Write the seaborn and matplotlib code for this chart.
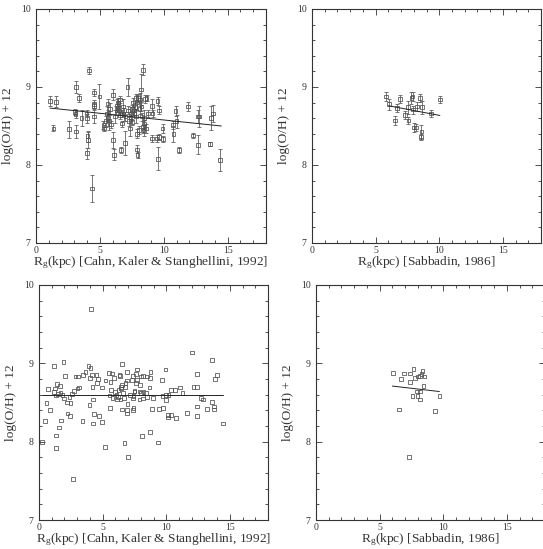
import numpy as np
import pandas as pd
import matplotlib
matplotlib.use("Agg")
import matplotlib.pyplot as plt
from matplotlib.ticker import MultipleLocator
import seaborn as sns

# ---------------- data ----------------
# Top-left: Cahn, Kaler & Stanghellini 1992 (with error bars)
tl_x = [1.10, 1.59, 1.36, 2.56, 3.13, 3.05, 3.10, 3.13, 3.39, 3.57, 3.96, 3.98, 3.97, 4.04, 4.06,
        4.17, 4.36, 4.56, 4.52, 4.55, 4.55, 4.96, 5.27, 5.30, 5.45, 5.53, 5.60, 5.65, 5.72, 5.80,
        5.85, 6.00, 6.05, 6.08, 6.20, 6.30, 6.35, 6.40, 6.42, 6.45, 6.50, 6.55, 6.60, 6.65, 6.70,
        6.75, 6.80, 6.85, 6.96, 7.00, 7.17, 7.20, 7.30, 7.35, 7.40, 7.45, 7.50, 7.55, 7.60, 7.65,
        7.70, 7.75, 7.80, 7.85, 7.88, 7.90, 7.92, 7.95, 8.00, 8.05, 8.10, 8.15, 8.22, 8.25, 8.30,
        8.35, 8.40, 8.42, 8.45, 8.48, 8.53, 8.60, 8.65, 8.79, 9.10, 9.12, 9.10, 9.44, 9.52, 9.60,
        9.65, 9.57, 9.91, 9.96, 10.70, 10.76, 10.93, 11.00, 11.20, 11.92, 12.28, 12.67, 12.75, 12.70,
        13.64, 13.71, 13.84, 14.42]
tl_y = [8.82, 8.81, 8.47, 8.46, 9.00, 8.68, 8.65, 8.43, 8.86, 8.60, 8.66, 8.60, 8.15, 8.37, 8.32,
        9.21, 7.70, 8.93, 8.78, 8.76, 8.62, 8.88, 8.51, 8.47, 8.56, 8.66, 8.79, 8.60, 8.57, 8.72,
        8.52, 8.90, 8.32, 8.13, 8.62, 8.70, 8.76, 8.80, 8.73, 8.78, 8.70, 8.84, 8.64, 8.19, 8.66,
        8.53, 8.75, 8.65, 8.28, 8.62, 9.00, 8.70, 8.56, 8.47, 8.61, 8.66, 8.72, 8.55, 8.80, 8.70,
        8.66, 8.74, 8.62, 8.86, 8.20, 8.40, 8.80, 8.13, 8.86, 8.45, 8.72, 8.84, 8.97, 8.75, 8.62,
        8.49, 9.22, 8.45, 8.53, 8.60, 8.85, 8.47, 8.86, 8.66, 8.76, 8.66, 8.34, 8.34, 8.82, 8.70,
        8.36, 8.08, 8.47, 8.33, 8.51, 8.40, 8.69, 8.56, 8.19, 8.75, 8.38, 8.62, 8.62, 8.26,
        8.27, 8.60, 8.66, 8.06]
tl_err = [0.07, 0.07, 0.04, 0.11, 0.08, 0.04, 0.05, 0.08, 0.05, 0.10, 0.04, 0.06, 0.07, 0.07, 0.10,
          0.04, 0.17, 0.05, 0.05, 0.04, 0.08, 0.16, 0.05, 0.04, 0.07, 0.10, 0.05, 0.10, 0.12, 0.08,
          0.05, 0.07, 0.10, 0.07, 0.08, 0.06, 0.08, 0.06, 0.05, 0.04, 0.06, 0.05, 0.05, 0.04, 0.05,
          0.04, 0.10, 0.08, 0.15, 0.06, 0.12, 0.05, 0.06, 0.10, 0.04, 0.08, 0.05, 0.04, 0.06, 0.06,
          0.04, 0.05, 0.08, 0.05, 0.05, 0.06, 0.10, 0.04, 0.05, 0.05, 0.07, 0.08, 0.20, 0.06, 0.05,
          0.08, 0.07, 0.08, 0.05, 0.10, 0.05, 0.06, 0.04, 0.04, 0.08, 0.05, 0.04, 0.04, 0.05, 0.05,
          0.04, 0.15, 0.06, 0.04, 0.05, 0.10, 0.06, 0.08, 0.04, 0.06, 0.03, 0.08, 0.13, 0.12,
          0.03, 0.15, 0.11, 0.14]
tl_fit_x = [1.1, 14.5]
tl_fit_y = [8.73, 8.50]

# Top-right: Sabbadin 1986 (with error bars)
tr_x = [5.80, 6.03, 6.50, 6.69, 6.90, 7.32, 7.56, 7.58, 7.82, 7.90, 7.92, 7.98, 8.20, 8.24,
        8.48, 8.60, 8.58, 8.66, 9.34, 10.08]
tr_y = [8.88, 8.78, 8.57, 8.73, 8.85, 8.64, 8.74, 8.57, 8.86, 8.88, 8.71, 8.48, 8.48, 8.75,
        8.86, 8.43, 8.36, 8.74, 8.66, 8.84]
tr_err = [0.06, 0.07, 0.06, 0.05, 0.05, 0.05, 0.08, 0.05, 0.08, 0.06, 0.05, 0.06, 0.05, 0.06,
          0.05, 0.08, 0.04, 0.08, 0.04, 0.04]
tr_fit_x = [6.0, 10.05]
tr_fit_y = [8.76, 8.635]

# Bottom-left: Cahn, Kaler & Stanghellini 1992 (no error bars)
bl_x = [0.24, 0.47, 0.58, 0.71, 0.86, 1.16, 1.16, 1.26, 1.31, 1.31, 1.31, 1.42, 1.50, 1.57, 1.63,
        1.68, 1.75, 1.84, 1.92, 1.97, 2.05, 2.20, 2.23, 2.39, 2.42, 2.47, 2.60, 2.67, 2.76, 2.86,
        3.02, 3.07, 3.12, 3.43, 3.46, 3.65, 3.88, 3.98, 3.99, 4.06, 4.11, 4.16, 4.20, 4.27, 4.25,
        4.33, 4.51, 4.58, 4.64, 4.69, 4.96, 4.96, 5.19, 5.22, 5.50, 5.55, 5.58, 5.63, 5.68, 5.76,
        5.79, 5.92, 5.99, 6.10, 6.13, 6.20, 6.25, 6.34, 6.38, 6.40, 6.42, 6.45, 6.50, 6.53, 6.55,
        6.60, 6.66, 6.71, 6.75, 6.80, 6.92, 6.92, 6.92, 6.92, 6.95, 7.00, 7.13, 7.29, 7.37, 7.39,
        7.39, 7.44, 7.44, 7.50, 7.50, 7.65, 7.65, 7.70, 7.70, 7.91, 7.91, 7.96, 8.00, 8.00, 8.07,
        8.17, 8.17, 8.22, 8.43, 8.48, 8.51, 8.69, 8.74, 8.75, 8.77, 8.88, 8.95, 9.33, 9.41, 9.68,
        9.70, 9.75, 9.94, 9.96, 9.99, 10.12, 10.12, 10.17, 10.35, 10.38, 10.69, 10.77, 11.08, 11.27,
        11.61, 12.03, 12.14, 12.40, 12.40, 12.40, 12.43, 12.71, 12.87, 13.19, 13.58, 13.58, 13.76,
        13.76, 13.84, 13.97, 14.47]
bl_y = [8.00, 8.26, 8.49, 8.67, 8.40, 8.97, 8.63, 8.68, 8.59, 8.08, 7.92, 8.74, 8.61, 8.18, 8.71,
        8.62, 8.27, 8.60, 9.02, 8.55, 8.84, 8.50, 8.36, 8.57, 8.33, 8.49, 8.61, 7.52, 8.65, 8.83,
        8.68, 8.83, 8.69, 8.26, 8.85, 8.89, 8.97, 8.47, 8.81, 8.94, 9.69, 8.85, 8.70, 8.54, 8.23,
        8.35, 8.85, 8.75, 8.80, 8.33, 8.69, 8.25, 7.93, 8.78, 8.88, 8.59, 8.43, 8.76, 8.66, 8.87,
        8.56, 8.81, 8.63, 8.60, 8.54, 8.57, 8.66, 8.85, 8.84, 8.54, 8.70, 8.68, 8.99, 8.41, 8.72,
        8.62, 8.56, 7.98, 8.70, 8.75, 8.89, 8.78, 8.40, 8.36, 8.48, 7.80, 8.60, 8.79, 8.40, 8.84,
        8.55, 8.58, 8.43, 8.65, 8.64, 8.86, 8.75, 8.92, 8.79, 8.64, 8.54, 8.72, 8.83, 8.62, 8.07,
        8.84, 8.55, 8.63, 8.62, 8.57, 8.83, 8.69, 8.81, 8.12, 8.89, 8.42, 8.56, 7.99, 8.42, 8.79,
        8.58, 8.43, 8.92, 8.60, 8.53, 8.34, 8.31, 8.60, 8.34, 8.66, 8.66, 8.30, 8.69, 8.62,
        8.37, 9.14, 8.70, 8.70, 8.86, 8.45, 8.33, 8.56, 8.54, 8.42, 9.04, 8.51, 8.45,
        8.41, 8.80, 8.85, 8.23]
bl_fit_x = [0.2, 14.5]
bl_fit_y = [8.60, 8.60]

# Bottom-right: Sabbadin 1986 (no error bars)
br_x = [6.05, 6.70, 6.94, 7.41, 7.67, 7.41, 7.80, 8.00, 8.19, 8.38, 8.30, 8.53, 8.46, 7.93,
        8.19, 7.59, 7.98, 8.19, 6.54, 9.35, 9.71, 7.30]
br_y = [8.88, 8.80, 8.87, 8.87, 8.93, 8.76, 8.81, 8.83, 8.84, 8.90, 8.86, 8.83, 8.71, 8.64,
        8.64, 8.58, 8.58, 8.54, 8.41, 8.39, 8.58, 7.80]
br_fit_x = [6.0, 9.7]
br_fit_y = [8.71, 8.64]

xlabels = [r"R$_{\rm g}$(kpc) [Cahn, Kaler & Stanghellini, 1992]",
           r"R$_{\rm g}$(kpc) [Sabbadin, 1986]"]
ylabel = "log(O/H) + 12"

# ---------------- style ----------------
sns.set_style("ticks")
plt.rcParams["font.family"] = ["Liberation Serif", "DejaVu Serif"]
plt.rcParams["mathtext.fontset"] = "custom"
plt.rcParams["mathtext.rm"] = "Liberation Serif"
plt.rcParams["mathtext.it"] = "Liberation Serif:italic"

fig = plt.figure(figsize=(5.43, 5.49), dpi=100)
W, H = 543.0, 549.0
def box(l, r, t, b):
    return [l / W, 1 - b / H, (r - l) / W, (b - t) / H]

ax_tl = fig.add_axes(box(36, 266, 9, 243))
ax_tr = fig.add_axes(box(312, 541, 9, 243))
ax_bl = fig.add_axes(box(39, 268, 285, 520))
ax_br = fig.add_axes(box(316, 545, 285, 520))

pt_col = "#505050"

def style(ax, xlabel):
    ax.set_xlim(0, 18)
    ax.set_ylim(7, 10)
    ax.xaxis.set_major_locator(MultipleLocator(5))
    ax.xaxis.set_minor_locator(MultipleLocator(1))
    ax.yaxis.set_major_locator(MultipleLocator(1))
    ax.yaxis.set_minor_locator(MultipleLocator(0.2))
    ax.tick_params(which="both", direction="in", top=True, right=True,
                   labelsize=7, colors="#333333", width=0.6)
    ax.tick_params(axis="x", which="both", pad=2)
    ax.tick_params(axis="y", which="both", pad=4)
    ax.tick_params(which="major", length=4)
    ax.tick_params(which="minor", length=2)
    for s in ax.spines.values():
        s.set_linewidth(0.8)
        s.set_color("#333333")
    ax.set_xlabel(xlabel, fontsize=9.6, color="#333333", labelpad=0)
    ax.set_ylabel(ylabel, fontsize=9.6, color="#333333", labelpad=5)

def draw(ax, x, y, err, fx, fy, xlabel):
    df = pd.DataFrame({"x": x, "y": y})
    if err is not None:
        ax.errorbar(x, y, yerr=err, fmt="none", ecolor="#606060",
                    elinewidth=0.6, capsize=1.5, capthick=0.6, zorder=2)
    sns.scatterplot(data=df, x="x", y="y", ax=ax, marker="s", s=7,
                    facecolor="none", edgecolor=pt_col, linewidth=0.55, zorder=3)
    fdf = pd.DataFrame({"x": fx, "y": fy})
    sns.lineplot(data=fdf, x="x", y="y", ax=ax, color="#222222", linewidth=0.7, zorder=4)
    style(ax, xlabel)

draw(ax_tl, tl_x, tl_y, tl_err, tl_fit_x, tl_fit_y, xlabels[0])
draw(ax_tr, tr_x, tr_y, tr_err, tr_fit_x, tr_fit_y, xlabels[1])
draw(ax_bl, bl_x, bl_y, None, bl_fit_x, bl_fit_y, xlabels[0])
draw(ax_br, br_x, br_y, None, br_fit_x, br_fit_y, xlabels[1])

fig.savefig("out.png", dpi=100)
